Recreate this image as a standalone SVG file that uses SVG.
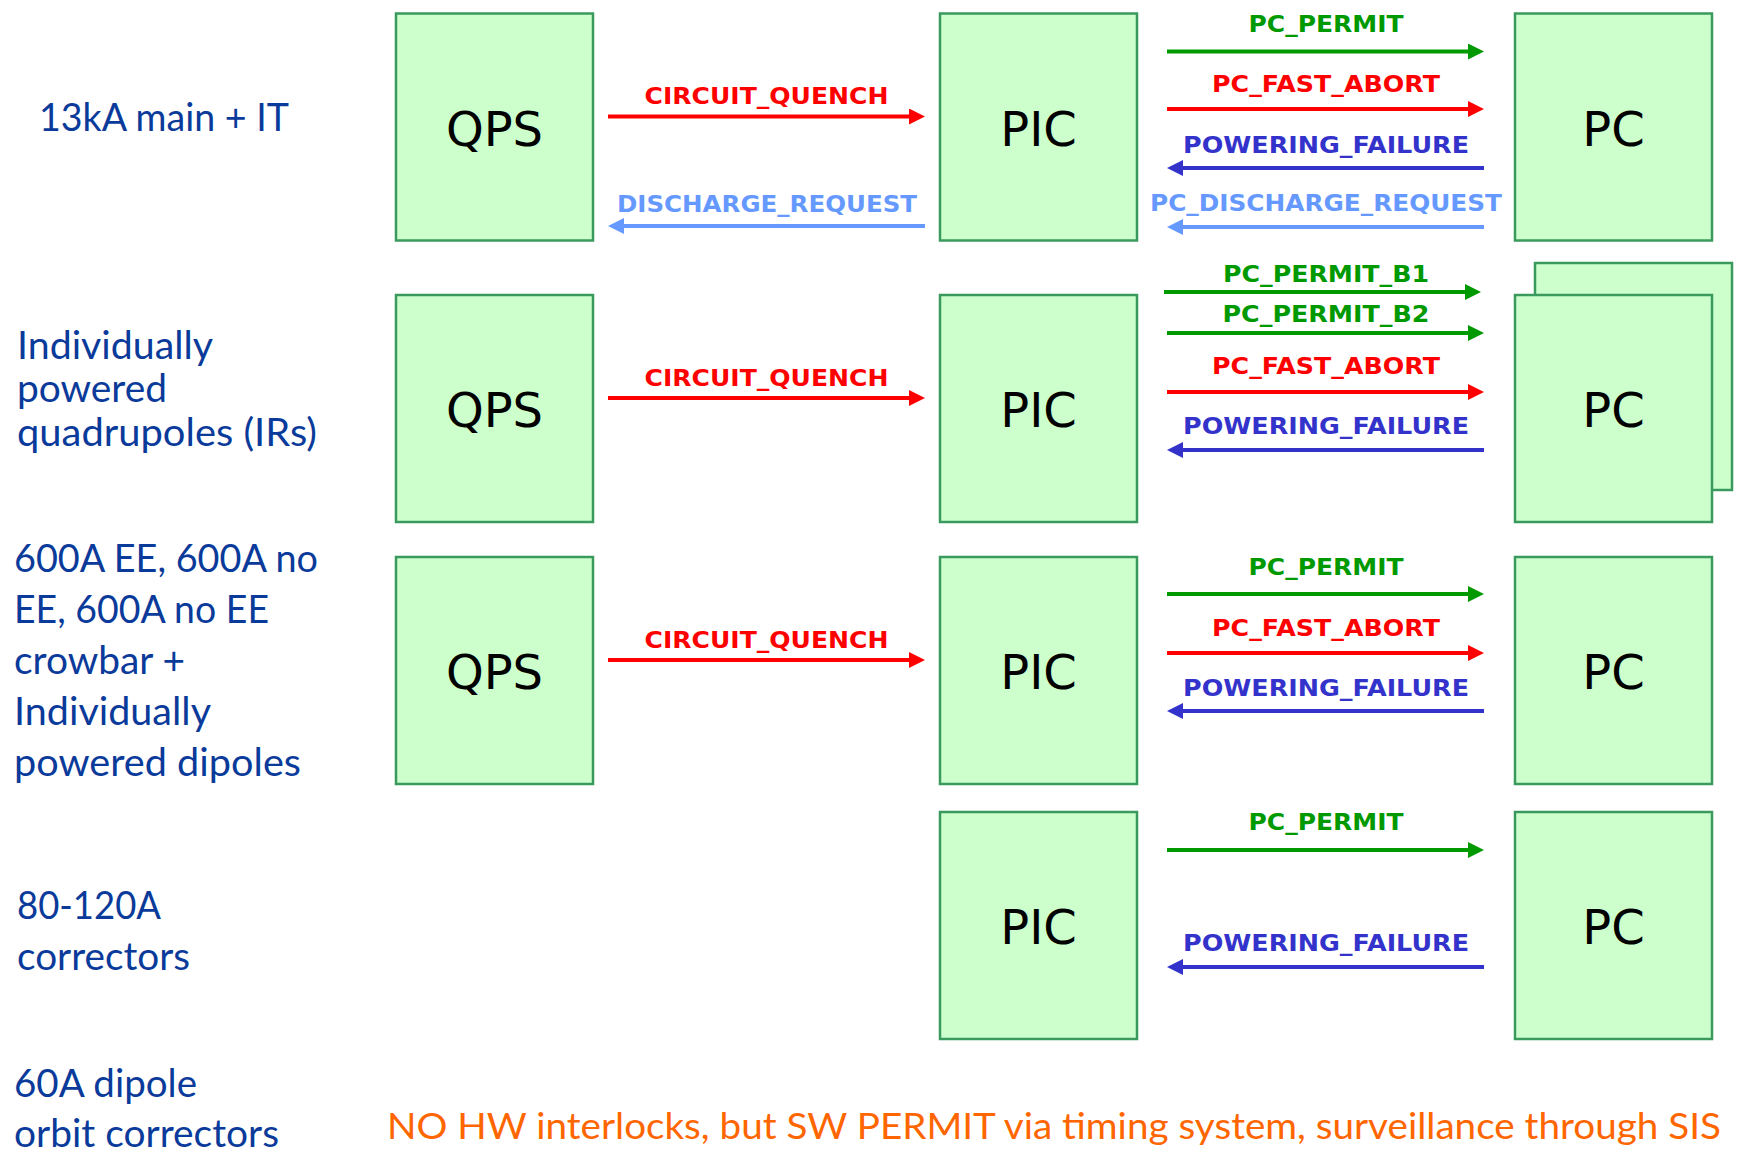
<svg xmlns="http://www.w3.org/2000/svg" width="1739" height="1152" viewBox="0 0 1739 1152">
<style>
.box{fill:#CCFFCC;stroke:#3A9A5E;stroke-width:2.5}
.bl{font-family:"DejaVu Sans",Verdana,sans-serif;font-size:48px;fill:#000;text-anchor:middle}
.lab{font-family:Lato,"Open Sans",sans-serif;font-size:38px;fill:#0A3A9A}
.sig{font-family:"DejaVu Sans",Verdana,sans-serif;font-weight:bold;font-size:23px;text-anchor:middle}
.ln{stroke-width:4;fill:none}
.g{fill:#009900}.r{fill:#FF0000}.b{fill:#3333CC}.lb{fill:#6699FF}
.gs{stroke:#009900}.rs{stroke:#FF0000}.bs{stroke:#3333CC}.lbs{stroke:#6699FF}
.note{font-family:Lato,"Open Sans",sans-serif;font-size:37px;fill:#FF6600}
</style>
<defs>
<marker id="ag" viewBox="0 0 16 16" refX="1" refY="8" markerWidth="16" markerHeight="16" markerUnits="userSpaceOnUse" orient="auto"><path d="M0,0 L16,8 L0,16 z" fill="#009900"/></marker>
<marker id="ar" viewBox="0 0 16 16" refX="1" refY="8" markerWidth="16" markerHeight="16" markerUnits="userSpaceOnUse" orient="auto"><path d="M0,0 L16,8 L0,16 z" fill="#FF0000"/></marker>
<marker id="ab" viewBox="0 0 16 16" refX="1" refY="8" markerWidth="16" markerHeight="16" markerUnits="userSpaceOnUse" orient="auto"><path d="M0,0 L16,8 L0,16 z" fill="#3333CC"/></marker>
<marker id="alb" viewBox="0 0 16 16" refX="1" refY="8" markerWidth="16" markerHeight="16" markerUnits="userSpaceOnUse" orient="auto"><path d="M0,0 L16,8 L0,16 z" fill="#6699FF"/></marker>
</defs>

<g id="labels">
<text class="lab" x="39" y="131" textLength="250" lengthAdjust="spacingAndGlyphs">13kA main + IT</text>
<text class="lab" x="17" y="359" textLength="196" lengthAdjust="spacingAndGlyphs">Individually</text>
<text class="lab" x="17" y="402" textLength="150" lengthAdjust="spacingAndGlyphs">powered</text>
<text class="lab" x="17" y="446" textLength="300" lengthAdjust="spacingAndGlyphs">quadrupoles (IRs)</text>
<text class="lab" x="14" y="572" textLength="304" lengthAdjust="spacingAndGlyphs">600A EE, 600A no</text>
<text class="lab" x="14" y="623" textLength="255" lengthAdjust="spacingAndGlyphs">EE, 600A no EE</text>
<text class="lab" x="14" y="674" textLength="171" lengthAdjust="spacingAndGlyphs">crowbar +</text>
<text class="lab" x="14" y="725" textLength="197" lengthAdjust="spacingAndGlyphs">Individually</text>
<text class="lab" x="14" y="776" textLength="287" lengthAdjust="spacingAndGlyphs">powered dipoles</text>
<text class="lab" x="17" y="919" textLength="144" lengthAdjust="spacingAndGlyphs">80-120A</text>
<text class="lab" x="17" y="970" textLength="173" lengthAdjust="spacingAndGlyphs">correctors</text>
<text class="lab" x="14" y="1097" textLength="183" lengthAdjust="spacingAndGlyphs">60A dipole</text>
<text class="lab" x="14" y="1147" textLength="265" lengthAdjust="spacingAndGlyphs">orbit correctors</text>
<text class="note" x="387" y="1139" textLength="1334" lengthAdjust="spacingAndGlyphs">NO HW interlocks, but SW PERMIT via timing system, surveillance through SIS</text>
</g>

<g id="qps1"><rect class="box" x="396" y="13.5" width="197" height="227"/><text class="bl" x="494.5" y="145.5">QPS</text></g>
<g id="pic1"><rect class="box" x="940" y="13.5" width="197" height="227"/><text class="bl" x="1038.5" y="145.5">PIC</text></g>
<g id="pc1"><rect class="box" x="1515" y="13.5" width="197" height="227"/><text class="bl" x="1613.5" y="145.5">PC</text></g>

<g id="qps2"><rect class="box" x="396" y="295" width="197" height="227"/><text class="bl" x="494.5" y="427">QPS</text></g>
<g id="pic2"><rect class="box" x="940" y="295" width="197" height="227"/><text class="bl" x="1038.5" y="427">PIC</text></g>
<g id="pc2"><rect class="box" x="1535" y="263" width="197" height="227"/><rect class="box" x="1515" y="295" width="197" height="227"/><text class="bl" x="1613.5" y="427">PC</text></g>

<g id="qps3"><rect class="box" x="396" y="557" width="197" height="227"/><text class="bl" x="494.5" y="688.5">QPS</text></g>
<g id="pic3"><rect class="box" x="940" y="557" width="197" height="227"/><text class="bl" x="1038.5" y="688.5">PIC</text></g>
<g id="pc3"><rect class="box" x="1515" y="557" width="197" height="227"/><text class="bl" x="1613.5" y="688.5">PC</text></g>

<g id="pic4"><rect class="box" x="940" y="812" width="197" height="227"/><text class="bl" x="1038.5" y="943.5">PIC</text></g>
<g id="pc4"><rect class="box" x="1515" y="812" width="197" height="227"/><text class="bl" x="1613.5" y="943.5">PC</text></g>

<g id="connectors">
<path class="ln rs" d="M608,116.5 H910" marker-end="url(#ar)"/>
<text class="sig r" x="766.5" y="104" textLength="244" lengthAdjust="spacingAndGlyphs">CIRCUIT_QUENCH</text>
<path class="ln lbs" d="M925,226 H623" marker-end="url(#alb)"/>
<text class="sig lb" x="767" y="212" textLength="300" lengthAdjust="spacingAndGlyphs">DISCHARGE_REQUEST</text>
<path class="ln gs" d="M1167,51.5 H1469" marker-end="url(#ag)"/>
<text class="sig g" x="1326" y="32" textLength="155" lengthAdjust="spacingAndGlyphs">PC_PERMIT</text>
<path class="ln rs" d="M1167,109 H1469" marker-end="url(#ar)"/>
<text class="sig r" x="1326" y="92" textLength="228" lengthAdjust="spacingAndGlyphs">PC_FAST_ABORT</text>
<path class="ln bs" d="M1484,168 H1182" marker-end="url(#ab)"/>
<text class="sig b" x="1326" y="152.5" textLength="286" lengthAdjust="spacingAndGlyphs">POWERING_FAILURE</text>
<path class="ln lbs" d="M1484,227 H1182" marker-end="url(#alb)"/>
<text class="sig lb" x="1326" y="210.5" textLength="352" lengthAdjust="spacingAndGlyphs">PC_DISCHARGE_REQUEST</text>
<path class="ln rs" d="M608,398 H910" marker-end="url(#ar)"/>
<text class="sig r" x="766.5" y="385.5" textLength="244" lengthAdjust="spacingAndGlyphs">CIRCUIT_QUENCH</text>
<path class="ln gs" d="M1164,292 H1466" marker-end="url(#ag)"/>
<text class="sig g" x="1326" y="282" textLength="206" lengthAdjust="spacingAndGlyphs">PC_PERMIT_B1</text>
<path class="ln gs" d="M1167,333 H1469" marker-end="url(#ag)"/>
<text class="sig g" x="1326" y="322" textLength="207" lengthAdjust="spacingAndGlyphs">PC_PERMIT_B2</text>
<path class="ln rs" d="M1167,392 H1469" marker-end="url(#ar)"/>
<text class="sig r" x="1326" y="374" textLength="228" lengthAdjust="spacingAndGlyphs">PC_FAST_ABORT</text>
<path class="ln bs" d="M1484,450 H1182" marker-end="url(#ab)"/>
<text class="sig b" x="1326" y="434" textLength="286" lengthAdjust="spacingAndGlyphs">POWERING_FAILURE</text>
<path class="ln rs" d="M608,660 H910" marker-end="url(#ar)"/>
<text class="sig r" x="766.5" y="647.5" textLength="244" lengthAdjust="spacingAndGlyphs">CIRCUIT_QUENCH</text>
<path class="ln gs" d="M1167,594 H1469" marker-end="url(#ag)"/>
<text class="sig g" x="1326" y="575" textLength="155" lengthAdjust="spacingAndGlyphs">PC_PERMIT</text>
<path class="ln rs" d="M1167,653 H1469" marker-end="url(#ar)"/>
<text class="sig r" x="1326" y="636" textLength="228" lengthAdjust="spacingAndGlyphs">PC_FAST_ABORT</text>
<path class="ln bs" d="M1484,711 H1182" marker-end="url(#ab)"/>
<text class="sig b" x="1326" y="696" textLength="286" lengthAdjust="spacingAndGlyphs">POWERING_FAILURE</text>
<path class="ln gs" d="M1167,850 H1469" marker-end="url(#ag)"/>
<text class="sig g" x="1326" y="830" textLength="155" lengthAdjust="spacingAndGlyphs">PC_PERMIT</text>
<path class="ln bs" d="M1484,967 H1182" marker-end="url(#ab)"/>
<text class="sig b" x="1326" y="951" textLength="286" lengthAdjust="spacingAndGlyphs">POWERING_FAILURE</text>
</g>
</svg>
